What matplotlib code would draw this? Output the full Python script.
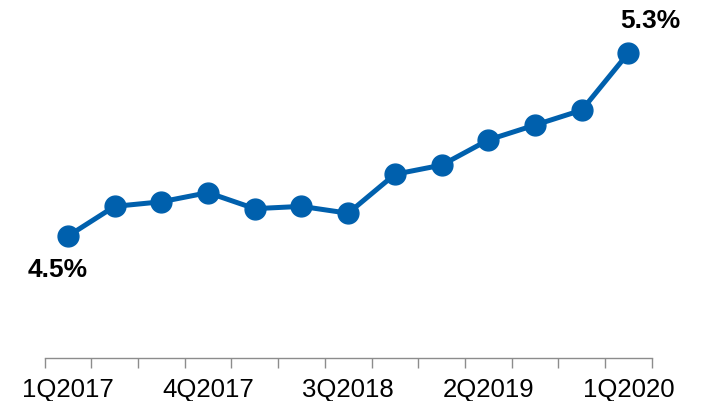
import matplotlib
matplotlib.use("Agg")
import matplotlib.pyplot as plt

plt.rcParams['font.family'] = ['Liberation Sans', 'DejaVu Sans']

quarters = ["1Q2017", "2Q2017", "3Q2017", "4Q2017", "1Q2018", "2Q2018", "3Q2018",
            "4Q2018", "1Q2019", "2Q2019", "3Q2019", "4Q2019", "1Q2020"]
rates = [4.50, 4.63, 4.65, 4.69, 4.62, 4.63, 4.60, 4.77, 4.81, 4.92, 4.985, 5.05, 5.30]
shown_labels = ["1Q2017", "4Q2017", "3Q2018", "2Q2019", "1Q2020"]

blue = "#0060AD"

fig = plt.figure(figsize=(7.07, 4.02), dpi=100)
ax = fig.add_axes([0.063, 0.108, 0.859, 0.815])

x = list(range(len(quarters)))
ax.plot(x, rates, color=blue, lw=3.6, marker="o", markersize=15,
        markerfacecolor=blue, markeredgecolor=blue, solid_capstyle="round", zorder=3)

ax.set_xlim(-0.5, len(quarters) - 0.5)
ax.set_ylim(3.97, 5.4)

# category boundary ticks, labels on every third quarter
ax.set_xticks([i - 0.5 for i in range(len(quarters) + 1)], minor=False)
ax.set_xticklabels([])
ax.tick_params(axis="x", which="major", length=7, width=1, color="#8c8c8c")
ax.set_xticks([quarters.index(q) for q in shown_labels], minor=True)
ax.set_xticklabels(shown_labels, minor=True, fontsize=18.5, color="black")
ax.tick_params(axis="x", which="minor", length=0, pad=14)

ax.set_yticks([])
for side in ["top", "right", "left"]:
    ax.spines[side].set_visible(False)
ax.spines["bottom"].set_color("#8c8c8c")
ax.spines["bottom"].set_linewidth(1)

# first and last values
ax.annotate(f"{rates[0]:.1f}%", (x[0], rates[0]), xytext=(-7, -24),
            textcoords="offset points", ha="center", va="center",
            fontsize=19, fontweight="bold", color="black")
ax.annotate(f"{rates[-1]:.1f}%", (x[-1], rates[-1]), xytext=(16, 24),
            textcoords="offset points", ha="center", va="center",
            fontsize=19, fontweight="bold", color="black")

fig.savefig("out.png", dpi=100)
